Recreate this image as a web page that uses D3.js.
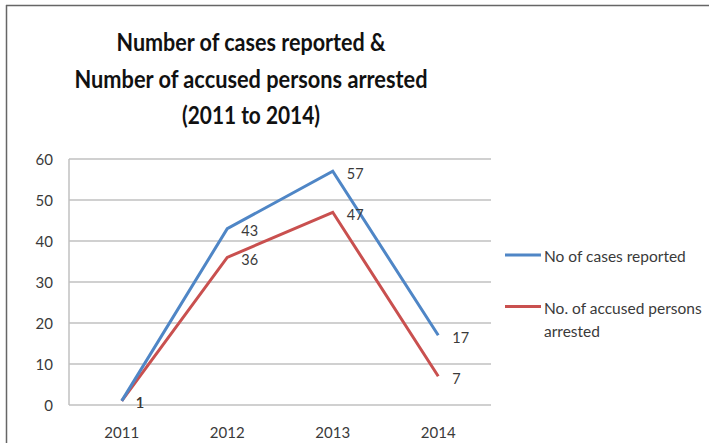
<!DOCTYPE html>
<html><head><meta charset="utf-8">
<script src="https://cdn.jsdelivr.net/npm/d3@7"></script>
<style>body{margin:0;background:#fff}svg{display:block}</style>
</head><body>
<svg id="c" width="709" height="443"></svg>
<script>
const years = ["2011","2012","2013","2014"];
const casesReported = [1, 43, 57, 17];
const personsArrested = [1, 36, 47, 7];
const yTicks = [0,10,20,30,40,50,60];
const titleLines = ["Number of cases reported &","Number of accused persons arrested","(2011 to 2014)"];
const seriesNames = ["No of cases reported", ["No. of accused persons","arrested"]];
const colors = ["#4f86c6","#c9504f"];

const svg = d3.select("#c");
const font = "Lato, 'Open Sans', sans-serif";
const txt = "#3a3a3a";

// frame
svg.append("line").attr("x1",6).attr("x2",709).attr("y1",5.5).attr("y2",5.5).attr("stroke","#666").attr("stroke-width",1.5);
svg.append("line").attr("x1",6.5).attr("x2",6.5).attr("y1",5).attr("y2",443).attr("stroke","#666").attr("stroke-width",1.5);

// title
const titleW = [269, 353, 138];
const tg = svg.append("g");
titleLines.forEach((t,i)=>{
  tg.append("text").attr("x",251).attr("y",51+i*36.5).attr("text-anchor","middle")
    .attr("font-family",font).attr("font-weight","bold").attr("font-size",25).attr("fill","#111")
    .attr("textLength",titleW[i]).attr("lengthAdjust","spacingAndGlyphs").text(t);
});

const x = d3.scaleBand().domain(years).range([69,491]);
const y = d3.scaleLinear().domain([0,60]).range([405,159]);

// grid
svg.append("g").selectAll("line").data(yTicks).join("line")
  .attr("x1",69).attr("x2",491).attr("y1",d=>y(d)).attr("y2",d=>y(d))
  .attr("stroke","#c0c0c0").attr("stroke-width",1.5);
svg.append("line").attr("x1",69).attr("x2",69).attr("y1",y(60)).attr("y2",y(0)).attr("stroke","#c0c0c0").attr("stroke-width",1.5);

// y axis
const ya = svg.append("g").attr("transform","translate(59,0)")
  .call(d3.axisLeft(y).tickValues(yTicks).tickSize(0).tickPadding(0));
ya.select(".domain").remove();
ya.selectAll("text").attr("font-family",font).attr("font-size",15).attr("fill",txt).attr("dy","0.35em").attr("x",-6);

// x axis
const xa = svg.append("g").attr("transform","translate(0,428)")
  .call(d3.axisBottom(x).tickSize(0).tickPadding(0));
xa.select(".domain").remove();
xa.selectAll("text").attr("font-family",font).attr("font-size",15).attr("fill",txt).attr("dy","0.35em").attr("y",5);

const cx = d => x(d)+x.bandwidth()/2;
const line = d3.line().x(d=>cx(d.year)).y(d=>y(d.v));
[personsArrested, casesReported].forEach((arr,k)=>{
  const idx = k===0?1:0;
  const data = years.map((yr,i)=>({year:yr,v:arr[i]}));
  svg.append("path").datum(data).attr("d",line).attr("fill","none")
    .attr("stroke",colors[idx]).attr("stroke-width",3).attr("stroke-linejoin","miter");
});
[casesReported, personsArrested].forEach((arr,k)=>{
  const data = years.map((yr,i)=>({year:yr,v:arr[i]}));
  svg.append("g").selectAll("text").data(data).join("text")
    .attr("x",d=>cx(d.year)+14).attr("y",d=>y(d.v)+2.5).attr("dy","0.35em")
    .attr("font-family",font).attr("font-size",14.5).attr("fill",txt).text(d=>d.v);
});

// legend
const lg = svg.append("g");
[0,1].forEach(i=>{
  const ly = i===0?255:306.5;
  lg.append("line").attr("x1",505).attr("x2",541).attr("y1",ly).attr("y2",ly).attr("stroke",colors[i]).attr("stroke-width",3);
  const names = Array.isArray(seriesNames[i])?seriesNames[i]:[seriesNames[i]];
  names.forEach((n,j)=>{
    lg.append("text").attr("x",544).attr("y",ly+2+j*23).attr("dy","0.35em").attr("font-family",font)
      .attr("font-size",15.5).attr("fill",txt).text(n);
  });
});
</script>
</body></html>
